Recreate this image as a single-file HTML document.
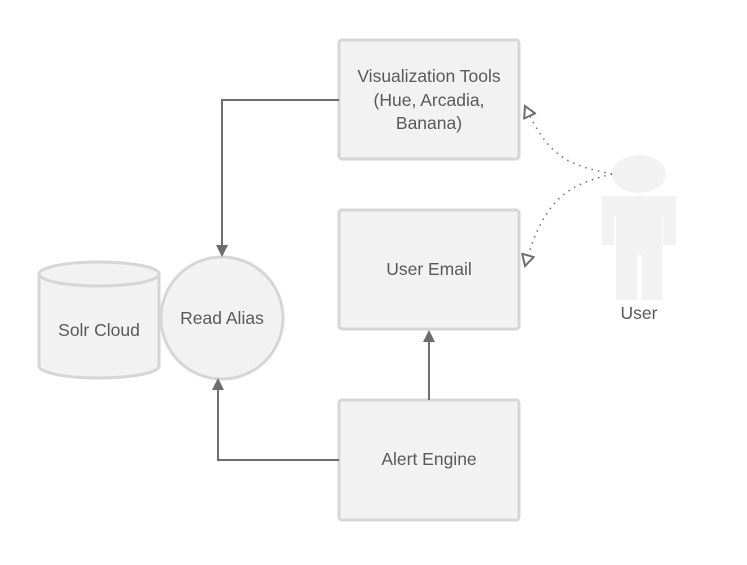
<!DOCTYPE html>
<html><head><style>
body{margin:0;background:#fff;}
svg text{font-family:"Liberation Sans",sans-serif;font-size:17.5px;fill:#595959;text-anchor:middle;}
</style></head><body>
<svg width="747" height="560" viewBox="0 0 747 560" xmlns="http://www.w3.org/2000/svg">
<defs>
<marker id="a" markerWidth="12" markerHeight="12" refX="10" refY="6" orient="auto" markerUnits="userSpaceOnUse"><path d="M0,0 L12,6 L0,12 Z" fill="#6d6d6d"/></marker>
<marker id="o" markerWidth="14" markerHeight="14" refX="12" refY="7" orient="auto" markerUnits="userSpaceOnUse"><path d="M1,1 L12,7 L1,13 Z" fill="#fff" stroke="#6d6d6d" stroke-width="2"/></marker>
</defs>
<g fill="#f2f2f2" stroke="#d6d6d6" stroke-width="3">
<rect x="339" y="40" width="180" height="119" rx="3"/>
<rect x="339" y="210" width="180" height="119" rx="3"/>
<rect x="339" y="400" width="180" height="120" rx="3"/>
<path d="M39,274 L39,366 A60,12 0 0 0 159,366 L159,274"/>
<ellipse cx="99" cy="274" rx="60" ry="12"/>
<circle cx="222" cy="318" r="61"/>
</g>
<g fill="#f2f2f2">
<ellipse cx="639" cy="174" rx="27" ry="19"/>
<path d="M602,196 H676 V245 H663 V216 H662 V300 H642 V255 H637 V300 H616 V216 H614 V245 H602 Z"/>
</g>
<g stroke="#6d6d6d" stroke-width="2" fill="none">
<path d="M339,100 H222 V255" marker-end="url(#a)"/>
<path d="M339,460 H218 V380" marker-end="url(#a)"/>
<path d="M429,400 V332" marker-end="url(#a)"/>
</g>
<g stroke="#6d6d6d" stroke-width="1.5" fill="none" stroke-dasharray="1.5 5">
<path d="M612,174 C570,165 550,160 525,106" marker-end="url(#o)"/>
<path d="M612,174 C570,185 545,195 525,266" marker-end="url(#o)"/>
</g>
<text x="429" y="82">Visualization Tools</text>
<text x="429" y="106">(Hue, Arcadia,</text>
<text x="429" y="129">Banana)</text>
<text x="429" y="275">User Email</text>
<text x="429" y="465">Alert Engine</text>
<text x="99" y="336">Solr Cloud</text>
<text x="222" y="324">Read Alias</text>
<text x="639" y="319">User</text>
</svg>
</body></html>
